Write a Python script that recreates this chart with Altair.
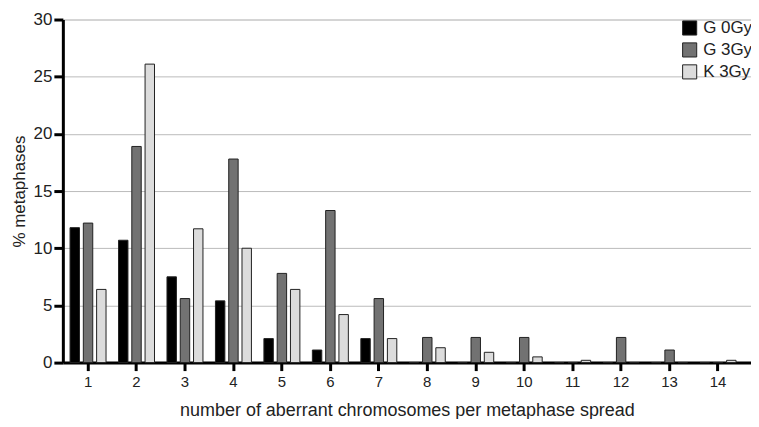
import altair as alt
import pandas as pd

categories = list(range(1, 15))
series = ["G 0Gy", "G 3Gy", "K 3Gy"]
g0 = [11.8, 10.7, 7.5, 5.4, 2.1, 1.1, 2.1, 0, 0, 0, 0, 0, 0, 0]
g3 = [12.2, 18.9, 5.6, 17.8, 7.8, 13.3, 5.6, 2.2, 2.2, 2.2, 0, 2.2, 1.1, 0]
k3 = [6.4, 26.1, 11.7, 10.0, 6.4, 4.2, 2.1, 1.3, 0.9, 0.5, 0.2, 0, 0, 0.2]
colors = ["#000000", "#727272", "#dcdcdc"]
y_ticks = [0, 5, 10, 15, 20, 25, 30]

rows = []
for name, vals in zip(series, [g0, g3, k3]):
    for c, v in zip(categories, vals):
        rows.append({"cat": c, "series": name, "value": v})
df = pd.DataFrame(rows)

font = "Liberation Sans"

chart = alt.Chart(df).mark_bar(stroke="#222222", strokeWidth=1).encode(
    x=alt.X("cat:O", title="number of aberrant chromosomes per metaphase spread",
            scale=alt.Scale(paddingInner=0, paddingOuter=0.1, align=0.1),
            axis=alt.Axis(labelAngle=0, domainColor="#000", domainWidth=3,
                          tickColor="#000", tickWidth=3, tickSize=8,
                          labelFontSize=15, labelColor="#222", labelPadding=4,
                          titleFontSize=18, titleColor="#222", titlePadding=12,
                          titleFontWeight="normal", grid=False)),
    xOffset=alt.XOffset("series:N", sort=series,
                        scale=alt.Scale(paddingInner=0.29, paddingOuter=0.47)),
    y=alt.Y("value:Q", title="% metaphases",
            scale=alt.Scale(domain=[0, 30], nice=False),
            axis=alt.Axis(values=y_ticks, domainColor="#000", domainWidth=3,
                          tickColor="#000", tickWidth=3, tickSize=9,
                          labelFontSize=17, labelColor="#222", labelPadding=2,
                          titleFontSize=17, titleColor="#222", titlePadding=5,
                          titleFontWeight="normal",
                          grid=True, gridColor="#bbbbbb", gridWidth=1)),
    fill=alt.Fill("series:N", sort=series,
                  scale=alt.Scale(domain=series, range=colors),
                  legend=alt.Legend(title=None, orient="none", legendX=620, legendY=0,
                                    symbolType="square", symbolSize=200,
                                    symbolStrokeColor="#222", symbolStrokeWidth=1,
                                    labelFontSize=17, labelColor="#222",
                                    labelOffset=5, rowPadding=3)),
).properties(
    width=690, height=344,
    autosize=alt.AutoSizeParams(type="none"),
    padding={"left": 55, "top": 11, "right": 0, "bottom": 56},
).configure_view(stroke=None).configure(font=font)

chart.save("out.html", embed_options={"renderer": "svg", "actions": False})
